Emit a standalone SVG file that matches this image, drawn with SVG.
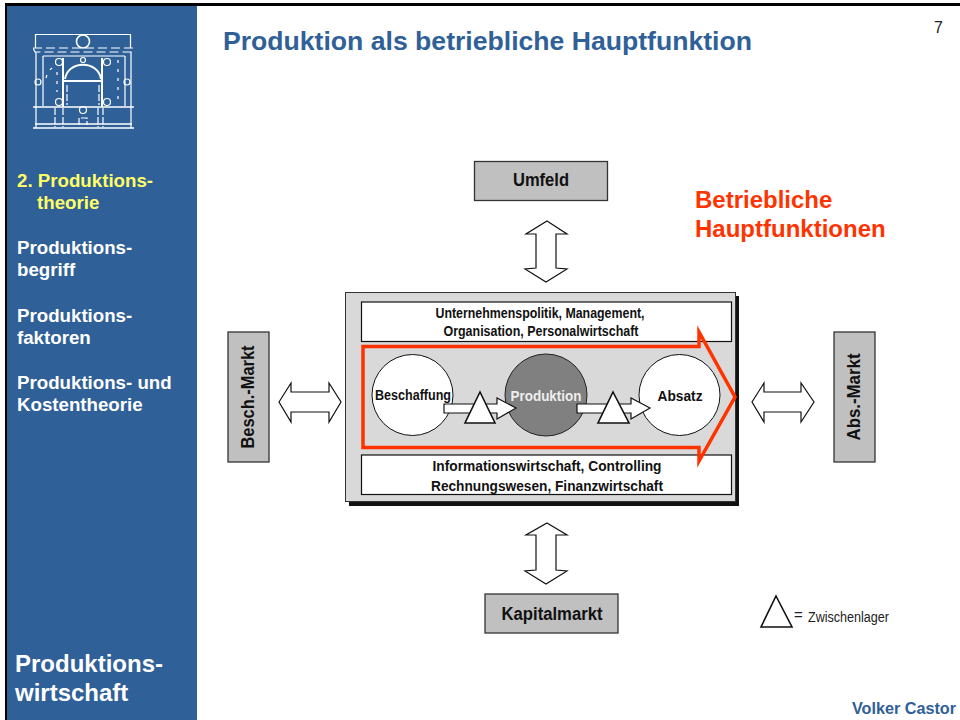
<svg xmlns="http://www.w3.org/2000/svg" width="960" height="720" viewBox="0 0 960 720">
<style>
text{font-family:"Liberation Sans",Arial,sans-serif}
.side{font-weight:bold;font-size:18.700px;fill:#fff}
.box{fill:#c0c0c0;stroke:#333;stroke-width:1.3}
.lbl{font-weight:bold;fill:#111;text-anchor:middle}
.ar{fill:#fff;stroke:#111;stroke-width:1.2}
.wb{fill:#fff;stroke:#111;stroke-width:1.2}
.tri{fill:#fff;stroke:#111;stroke-width:1.6}
.circ{fill:#fff;stroke:#111;stroke-width:1}
.logo{fill:none;stroke:#fff;stroke-width:1.200}
</style>
<rect width="960" height="720" fill="#fff"/>
<rect x="5" y="5" width="192" height="715" fill="#2f6098"/>
<rect x="0" y="3" width="960" height="3" fill="#000"/>
<rect x="5" y="3" width="2" height="717" fill="#000"/>
<rect x="0" y="0" width="5" height="720" fill="#fff"/>
<g id="logo" class="logo">
<path d="M35.500 48V34.500H130.500V48"/>
<circle cx="83" cy="41.500" r="6.500" stroke-width="1.600"/>
<path d="M33 48H133L131 52H35Z" stroke-dasharray="9 4"/>
<path d="M36 52V128M131 52V128M43 56H125M43 56V106M125 56V106" />
<path d="M33 107H134M33 128H134M35 124H132" stroke-width="1.500"/>
<path d="M63 58V107M102 58V107M64 81H102" stroke-width="2"/>
<path d="M65 79C68 60 98 60 101 79" stroke-width="2"/>
<circle cx="59" cy="62" r="3.500"/><circle cx="107" cy="62" r="3.500"/>
<circle cx="59" cy="102" r="3.500"/><circle cx="107" cy="102" r="3.500"/>
<circle cx="38" cy="82" r="3"/><circle cx="127" cy="82" r="3"/>
<circle cx="83" cy="110" r="3.500"/><circle cx="83" cy="60" r="2.500"/>
<path d="M79 125V118H87V125M55 108V127M63 108V127M98 108V127M103 108V127M67 85V105M99 85V105" stroke-dasharray="7 2"/>
<path d="M46 78C48 70 52 67 57 66M57 72V92M118 60V100" stroke-dasharray="3 6"/>
</g>
<g id="sidebar">
<text x="17" y="187" class="side" style="fill:#ffff66">2. Produktions-</text>
<text x="37" y="209" class="side" style="fill:#ffff66">theorie</text>
<text x="17" y="254" class="side">Produktions-</text>
<text x="17" y="276" class="side">begriff</text>
<text x="17" y="322" class="side">Produktions-</text>
<text x="17" y="344" class="side">faktoren</text>
<text x="17" y="389" class="side">Produktions- und</text>
<text x="17" y="411" class="side">Kostentheorie</text>
<text x="15" y="672" font-size="24" font-weight="bold" fill="#fff">Produktions-</text>
<text x="15" y="701" font-size="24" font-weight="bold" fill="#fff">wirtschaft</text>
</g>
<text id="title" x="223" y="50" font-size="26.600" font-weight="bold" fill="#2f6098">Produktion als betriebliche Hauptfunktion</text>
<text id="page" x="934" y="33" font-size="16" fill="#222">7</text>
<g id="headline" font-size="24" font-weight="bold" fill="#ff3300">
<text x="695" y="208">Betriebliche</text>
<text x="695" y="237">Hauptfunktionen</text>
</g>
<g id="connectors">
<path class="ar" d="M547 221L567 234H556V268L567 269L546 282L525 269L536 268V234H526Z"/>
<path class="ar" d="M547 523L567 535H556V570L567 571L546 584L525 571L536 570V535H526Z"/>
<path class="ar" d="M279 402L291 383V392H329V383L341 402L329 422V412H291V422Z"/>
<path class="ar" d="M752 402L764 383V392H801V383L814 402L801 422V412H764V422Z"/>
</g>
<g id="umfeld"><rect class="box" x="474.500" y="161.500" width="133" height="39"/><text class="lbl" x="541" y="186" font-size="18" textLength="56" lengthAdjust="spacingAndGlyphs">Umfeld</text></g>
<g id="kapitalmarkt"><rect class="box" x="485" y="594" width="133" height="39"/><text class="lbl" x="552" y="620" font-size="18" textLength="101" lengthAdjust="spacingAndGlyphs">Kapitalmarkt</text></g>
<g id="besch-markt"><rect class="box" x="228" y="332" width="41" height="130"/><text class="lbl" font-size="18" transform="translate(254 397) rotate(-90)" textLength="103" lengthAdjust="spacingAndGlyphs">Besch.-Markt</text></g>
<g id="abs-markt"><rect class="box" x="834" y="332" width="41" height="130"/><text class="lbl" font-size="18" transform="translate(860 397) rotate(-90)" textLength="87" lengthAdjust="spacingAndGlyphs">Abs.-Markt</text></g>
<g id="unternehmen">
<rect x="349" y="296" width="390" height="210" fill="#111"/>
<rect x="345.500" y="292.500" width="390" height="209" fill="#d9d9d9" stroke="#333" stroke-width="1"/>
</g>
<g id="management"><rect class="wb" x="361.500" y="302" width="370" height="39.500"/>
<text class="lbl" x="540" y="318" font-size="14" textLength="209" lengthAdjust="spacingAndGlyphs">Unternehmenspolitik, Management,</text>
<text class="lbl" x="541" y="336" font-size="14" textLength="195" lengthAdjust="spacingAndGlyphs">Organisation, Personalwirtschaft</text></g>
<g id="information"><rect class="wb" x="361.500" y="455" width="370" height="39.500"/>
<text class="lbl" x="547" y="471" font-size="14.500" textLength="229" lengthAdjust="spacingAndGlyphs">Informationswirtschaft, Controlling</text>
<text class="lbl" x="547" y="491" font-size="14.500" textLength="232" lengthAdjust="spacingAndGlyphs">Rechnungswesen, Finanzwirtschaft</text></g>
<g id="hauptfunktion-arrow"><path d="M363 346.500H699V332L735 397L699 461V447.500H363Z" fill="none" stroke="#ff3300" stroke-width="3.500"/></g>
<g id="beschaffung"><circle class="circ" cx="412.500" cy="395" r="40.500"/><text class="lbl" x="413" y="400" font-size="14" textLength="76" lengthAdjust="spacingAndGlyphs">Beschaffung</text></g>
<g id="produktion"><circle cx="546" cy="395" r="41" fill="#808080" stroke="#222"/><text class="lbl" x="546" y="401" font-size="14.500" style="fill:#eee" textLength="71" lengthAdjust="spacingAndGlyphs">Produktion</text></g>
<g id="absatz"><circle class="circ" cx="679.500" cy="395" r="40.500"/><text class="lbl" x="680" y="401" font-size="14.500" textLength="45" lengthAdjust="spacingAndGlyphs">Absatz</text></g>
<g id="flow">
<path class="ar" d="M444 404H497V398L516 408L497 419V413H444Z"/>
<path class="ar" d="M577 404H631V398L650 408L631 419V413H577Z"/>
</g>
<g id="lager1"><path class="tri" d="M480 392L495 423H465Z"/></g>
<g id="lager2"><path class="tri" d="M613 392L629 423H598Z"/></g>
<g id="legend"><path class="tri" d="M776 596L792 627H761Z"/>
<text x="794" y="620" font-size="15" fill="#222">=</text>
<text x="808" y="622" font-size="14" fill="#222" textLength="81" lengthAdjust="spacingAndGlyphs">Zwischenlager</text></g>
<text id="author" x="956" y="714" font-size="16.200" font-weight="bold" fill="#2f6098" text-anchor="end">Volker Castor</text>
</svg>
